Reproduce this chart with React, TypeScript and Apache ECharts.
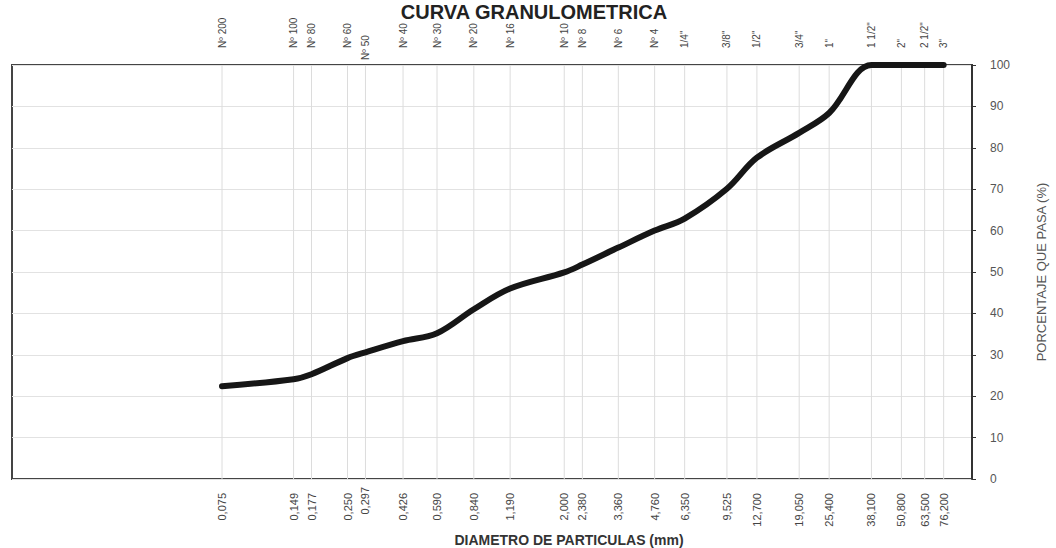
import React, { useEffect, useRef } from "react";
import * as echarts from "echarts";

// Sieve openings (mm)
const sieveSizes = [
  0.075, 0.149, 0.177, 0.25, 0.297, 0.426, 0.59, 0.84, 1.19, 2.0, 2.38, 3.36,
  4.76, 6.35, 9.525, 12.7, 19.05, 25.4, 38.1, 50.8, 63.5, 76.2,
];
// Sieve designations (top labels)
const sieveNames = [
  "Nº 200", "Nº 100", "Nº 80", "Nº 60", "Nº 50", "Nº 40", "Nº 30", "Nº 20",
  "Nº 16", "Nº 10", "Nº 8", "Nº 6", "Nº 4", '1/4"', '3/8"', '1/2"', '3/4"',
  '1"', '1 1/2"', '2"', '2 1/2"', '3"',
];
// Opening labels (bottom labels)
const sizeLabels = [
  "0,075", "0,149", "0,177", "0,250", "0,297", "0,426", "0,590", "0,840",
  "1,190", "2,000", "2,380", "3,360", "4,760", "6,350", "9,525", "12,700",
  "19,050", "25,400", "38,100", "50,800", "63,500", "76,200",
];
// Percentage passing
const percentPassing = [
  22.4, 24.1, 25.3, 29.2, 30.6, 33.3, 35.2, 41.0, 46.0, 49.9, 51.8, 55.9,
  60.0, 62.9, 70.1, 77.6, 83.6, 88.4, 100, 100, 100, 100,
];

const titleText = "CURVA GRANULOMETRICA";
const xTitle = "DIAMETRO DE PARTICULAS (mm)";
const yTitle = "PORCENTAJE QUE PASA (%)";

export default function App() {
  const ref = useRef<HTMLDivElement>(null);
  useEffect(() => {
    if (!ref.current) return;
    const chart = echarts.init(ref.current, undefined, { renderer: "svg" });
    const font = "'Liberation Sans', Arial, sans-serif";
    chart.setOption({
      animation: false,
      backgroundColor: "#ffffff",
      grid: {
        left: 12,
        right: 73,
        top: 65,
        bottom: 69,
        show: true,
        borderColor: "#444",
        borderWidth: 2,
      },
      xAxis: {
        type: "log",
        logBase: 10,
        min: 0.01,
        max: 100,
        axisLine: { show: false },
        axisTick: { show: false },
        axisLabel: { show: false },
        splitLine: { show: false },
        minorSplitLine: { show: false },
      },
      yAxis: {
        type: "value",
        position: "right",
        min: 0,
        max: 100,
        interval: 10,
        name: yTitle,
        nameLocation: "middle",
        nameRotate: 90,
        nameGap: 63,
        nameTextStyle: { fontFamily: font, fontSize: 13, color: "#555" },
        axisLine: { show: true, lineStyle: { color: "#333", width: 2 } },
        axisTick: { show: true, inside: false, length: 4, lineStyle: { color: "#333" } },
        axisLabel: { margin: 18, fontFamily: font, fontSize: 12, color: "#555" },
        splitLine: { show: true, lineStyle: { color: "#e2e2e2", width: 1 } },
      },
      graphic: [
        {
          type: "text",
          x: 534,
          y: 12,
          style: {
            text: titleText,
            align: "center",
            verticalAlign: "middle",
            fontFamily: font,
            fontWeight: "bold",
            fontSize: 20,
            fill: "#222",
          },
        },
        {
          type: "text",
          x: 569,
          y: 540,
          style: {
            text: xTitle,
            align: "center",
            verticalAlign: "middle",
            fontFamily: font,
            fontWeight: "bold",
            fontSize: 14,
            fill: "#333",
          },
        },
      ],
      series: [
        {
          type: "custom",
          coordinateSystem: "cartesian2d",
          clip: false,
          silent: true,
          z: 1,
          data: sieveSizes.map((s, i) => [s, i]),
          renderItem: (params: any, api: any) => {
            const v = api.value(0);
            const i = api.value(1);
            const b = api.coord([v, 0]);
            const t = api.coord([v, 100]);
            const topShift = sieveNames[i] === "Nº 50" ? 12 : 0;
            const botShift = sizeLabels[i] === "0,297" ? -6 : 0;
            return {
              type: "group",
              children: [
                {
                  type: "line",
                  shape: { x1: b[0], y1: b[1], x2: t[0], y2: t[1] },
                  style: { stroke: "#dcdcdc", lineWidth: 1 },
                },
                {
                  type: "text",
                  x: t[0],
                  y: t[1] - 17 + topShift,
                  rotation: Math.PI / 2,
                  style: {
                    text: sieveNames[i],
                    align: "left",
                    verticalAlign: "middle",
                    fontFamily: font,
                    fontSize: 10,
                    fill: "#444",
                  },
                },
                {
                  type: "text",
                  x: b[0],
                  y: b[1] + 14 + botShift,
                  rotation: Math.PI / 2,
                  style: {
                    text: sizeLabels[i],
                    align: "right",
                    verticalAlign: "middle",
                    fontFamily: font,
                    fontSize: 11,
                    fill: "#444",
                  },
                },
              ],
            };
          },
        },
        {
          type: "line",
          z: 3,
          data: sieveSizes.map((s, i) => [s, percentPassing[i]]),
          smooth: 0.35,
          symbol: "none",
          lineStyle: { color: "#161616", width: 6, cap: "round", join: "round" },
        },
      ],
    });
    return () => chart.dispose();
  }, []);
  return (
    <div
      ref={ref}
      style={{ position: "fixed", left: 0, top: 0, width: 1056, height: 548 }}
    />
  );
}
